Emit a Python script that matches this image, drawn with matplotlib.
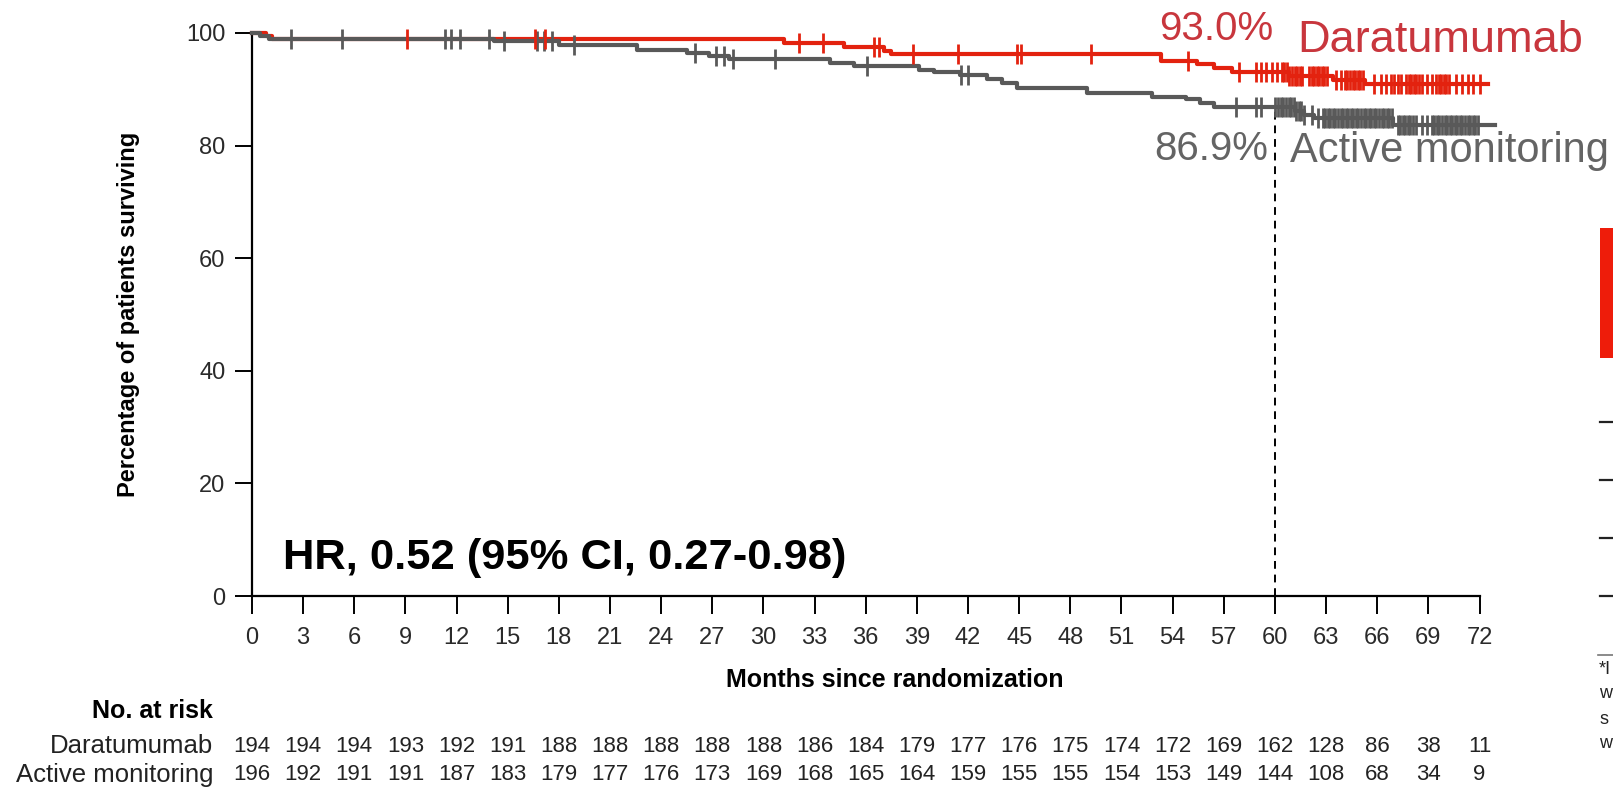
import numpy as np
import matplotlib
matplotlib.use('Agg')
from matplotlib import pyplot as plt
from matplotlib import transforms
from matplotlib.patches import Rectangle
from matplotlib.lines import Line2D

plt.rcParams['font.family'] = ['Liberation Sans', 'DejaVu Sans']

# Kaplan-Meier steps (month, % surviving after the step)
dara_times = [0, 0.8, 1.2, 31.2, 34.7, 37.1, 37.5, 53.3, 55.4, 56.4, 57.5, 60.8, 63.4, 65.3, 72.5]
dara_surv = [100, 99.5, 99.0, 98.2, 97.5, 96.8, 96.2, 95.0, 94.5, 93.8, 93.0, 92.4, 91.6, 91.0, 91.0]

active_times = [0, 0.5, 1.0, 14.2, 18.0, 22.6, 25.5, 26.8, 28.0, 33.9, 35.3, 39.1, 40.0, 41.5,
                43.1, 44.0, 44.9, 49.0, 52.8, 54.8, 55.6, 56.4, 61.2, 61.7, 62.3, 66.9, 72.9]
active_surv = [100, 99.5, 99.0, 98.5, 97.9, 97.0, 96.5, 96.0, 95.4, 94.7, 94.1, 93.5, 93.0, 92.5,
               91.9, 91.1, 90.2, 89.4, 88.7, 88.2, 87.5, 86.9, 86.2, 85.4, 84.9, 83.6, 83.6]

# censoring times (months)
dara_censor = [9.1, 16.6, 17.2, 32.1, 33.5, 36.5, 36.8, 38.8, 41.4, 44.9, 45.1, 49.2, 54.9, 57.9,
               58.9, 59.2, 59.5, 59.8, 60.1, 60.4, 60.55, 60.7, 60.85, 61.0, 61.15, 61.3, 61.45, 61.6,
               62.0, 62.15, 62.3, 62.45, 62.6, 62.75, 62.9, 63.05, 63.6, 63.9, 64.1, 64.25, 64.4,
               64.55, 64.7, 64.85, 65.0, 65.15, 65.8, 66.2, 66.5, 66.8, 67.0, 67.2, 67.4, 67.7,
               67.85, 68.0, 68.15, 68.3, 68.45, 68.6, 68.9, 69.2, 69.45, 69.6, 69.75, 69.9, 70.05,
               70.2, 70.6, 71.0, 71.3, 71.6, 72.0]
active_censor = [2.3, 5.3, 11.3, 11.7, 12.2, 13.9, 14.8, 16.7, 17.1, 17.6, 18.9, 26.0, 27.2, 27.7,
                 28.2, 30.7, 36.1, 41.6, 42.0, 57.7, 58.9, 59.2, 60.0, 60.2, 60.35, 60.5, 60.65,
                 60.8, 60.95, 61.1, 61.25, 61.4, 61.55, 61.7, 62.2, 62.5, 62.8, 62.95, 63.1, 63.25,
                 63.4, 63.55, 63.7, 63.85, 64.0, 64.15, 64.3, 64.45, 64.6, 64.75, 64.9, 65.05, 65.2,
                 65.35, 65.5, 65.65, 65.8, 65.95, 66.1, 66.25, 66.4, 66.55, 66.7, 66.85, 67.2, 67.35,
                 67.5, 67.65, 67.8, 67.95, 68.1, 68.25, 68.6, 68.9, 69.2, 69.35, 69.5, 69.65, 69.8,
                 69.95, 70.1, 70.25, 70.4, 70.55, 70.7, 70.85, 71.0, 71.15, 71.3, 71.45, 71.6, 71.75,
                 71.9]

risk_months = [0, 3, 6, 9, 12, 15, 18, 21, 24, 27, 30, 33, 36, 39, 42, 45, 48, 51, 54, 57, 60, 63, 66, 69, 72]
dara_risk = [194, 194, 194, 193, 192, 191, 188, 188, 188, 188, 188, 186, 184, 179, 177, 176, 175,
             174, 172, 169, 162, 128, 86, 38, 11]
active_risk = [196, 192, 191, 191, 187, 183, 179, 177, 176, 173, 169, 168, 165, 164, 159, 155, 155,
               154, 153, 149, 144, 108, 68, 34, 9]

landmark = 60
dara_landmark = '93.0%'
active_landmark = '86.9%'

RED = '#e3220f'
GREY = '#595959'
RED_TXT = '#c8363d'
GREY_TXT = '#646464'


def surv_at(times, surv, t):
	i = np.searchsorted(times, t, side='right') - 1
	return np.array(surv)[i]


fig = plt.figure(figsize=(16.13, 7.93), dpi=100)
ax = fig.add_axes([0.1562, 0.2484, 0.7822, 0.71])

ax.step(dara_times, dara_surv, where='post', color=RED, lw=3, clip_on=False, zorder=3)
ax.step(active_times, active_surv, where='post', color=GREY, lw=3, clip_on=False, zorder=4)
ax.plot(active_censor, surv_at(active_times, active_surv, active_censor), ls='none', marker='|',
		ms=14, mew=2, color=GREY, clip_on=False, zorder=5)
ax.plot(dara_censor, surv_at(dara_times, dara_surv, dara_censor), ls='none', marker='|',
		ms=14, mew=2, color=RED, clip_on=False, zorder=6)

ax.vlines(landmark, 0, surv_at(active_times, active_surv, landmark), colors='black',
		  linestyles=(0, (4, 3)), lw=1.4, zorder=2)

ax.set_xlim(0, 74)
ax.set_ylim(0, 100)
ax.set_xticks(risk_months)
ax.set_yticks([0, 20, 40, 60, 80, 100])
for s in ['top', 'right']:
	ax.spines[s].set_visible(False)
ax.spines['left'].set_bounds(0, 100)
ax.spines['bottom'].set_bounds(0, 72)
ax.spines['left'].set_linewidth(1.6)
ax.spines['bottom'].set_linewidth(1.6)
ax.tick_params(axis='y', length=12, width=1.4, pad=7, labelsize=17, labelcolor='#2a2a2a')
ax.tick_params(axis='x', length=13, width=1.4, pad=9, labelsize=17, labelcolor='#2a2a2a')

ax.set_ylabel('Percentage of patients surviving', fontsize=17, fontweight='bold')
ax.yaxis.set_label_coords(-0.089, 0.5)
fig.text(0.555, 1 - 680 / 793, 'Months since randomization', fontsize=18, fontweight='bold',
		 ha='center', va='center')

ax.text(1.8, 6.8, 'HR, 0.52 (95% CI, 0.27-0.98)', fontsize=31.3, fontweight='bold', va='center')

ax.text(59.9, 98.75, dara_landmark, color=RED_TXT, fontsize=29, ha='right', va='baseline')
ax.text(61.3, 96.6, 'Daratumumab', color=RED_TXT, fontsize=32.5, ha='left', va='baseline')
ax.text(59.6, 77.4, active_landmark, color=GREY_TXT, fontsize=29, ha='right', va='baseline')
ax.text(60.9, 77.1, 'Active monitoring', color=GREY_TXT, fontsize=30, ha='left', va='baseline')

# number at risk table
tr = transforms.blended_transform_factory(ax.transData, fig.transFigure)
fig.text(213 / 1613, 1 - 711 / 793, 'No. at risk', fontsize=18, fontweight='bold', ha='right', va='center')
fig.text(213 / 1613, 1 - 746 / 793, 'Daratumumab', fontsize=18.5, ha='right', va='center', color='#222222')
fig.text(213 / 1613, 1 - 775 / 793, 'Active monitoring', fontsize=18.5, ha='right', va='center', color='#222222')
for m, a, b in zip(risk_months, dara_risk, active_risk):
	ax.text(m, 1 - 746 / 793, str(a), transform=tr, fontsize=16, ha='center', va='center', color='#222222')
	ax.text(m, 1 - 775 / 793, str(b), transform=tr, fontsize=16, ha='center', va='center', color='#222222')

# fragments of the neighbouring slide panel, cut by the right edge
fig.add_artist(Rectangle((1600 / 1613, 1 - 358 / 793), 20 / 1613, 130 / 793,
						 transform=fig.transFigure, color='#ee1c0a', lw=0))
for yy in [422, 480, 538, 596]:
	fig.add_artist(Line2D([1600 / 1613, 1.0], [1 - yy / 793] * 2, transform=fig.transFigure,
						  color='#222222', lw=1.6))
fig.add_artist(Line2D([1598 / 1613, 1.0], [1 - 655 / 793] * 2, transform=fig.transFigure,
					  color='#777777', lw=1.2))
for yy, t in zip([670, 694, 719, 744], ['*I', 'w', 's', 'w']):
	fig.text(1599 / 1613, 1 - yy / 793, t, fontsize=13, ha='left', va='center', color='#222222')

fig.savefig('out.png', dpi=100)
